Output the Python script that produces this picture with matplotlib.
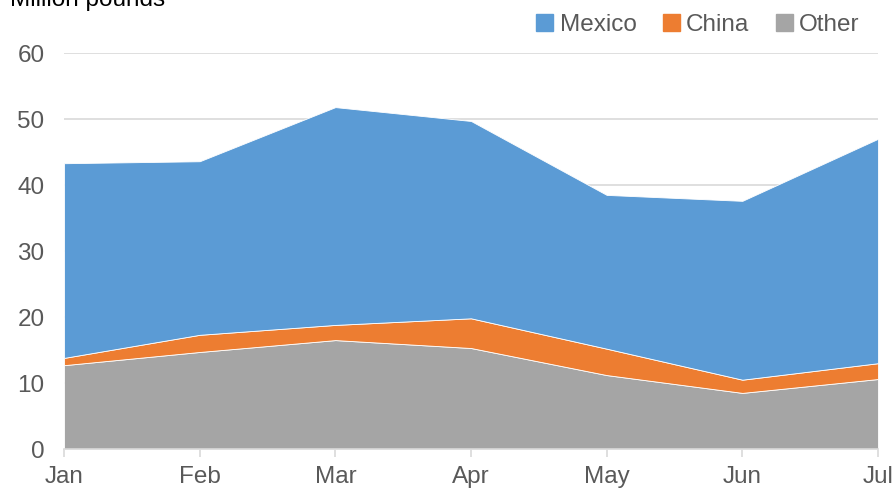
import matplotlib.pyplot as plt
from matplotlib.patches import Patch

plt.rcParams['font.family'] = ['Liberation Sans', 'DejaVu Sans']

# --- Data (million pounds) ---
months = ['Jan', 'Feb', 'Mar', 'Apr', 'May', 'Jun', 'Jul']
other = [12.7, 14.7, 16.5, 15.3, 11.2, 8.5, 10.6]
china = [1.1, 2.6, 2.3, 4.5, 4.0, 2.0, 2.4]
mexico = [29.5, 26.3, 33.0, 29.9, 23.3, 27.1, 34.0]
y_ticks = [0, 10, 20, 30, 40, 50, 60]

col_mexico = '#5B9BD5'
col_china = '#ED7D31'
col_other = '#A5A5A5'
txt = '#595959'
grid = '#D9D9D9'

fig = plt.figure(figsize=(8.96, 4.88), dpi=100)
ax = fig.add_axes([64 / 896, 39 / 488, (878 - 64) / 896, (449 - 53) / 488])

x = list(range(len(months)))
ax.stackplot(x, other, china, mexico,
             colors=[col_other, col_china, col_mexico],
             edgecolor='white', linewidth=0.6, zorder=2)

ax.set_xlim(0, len(months) - 1)
ax.set_ylim(0, 60)
ax.set_yticks(y_ticks)
ax.set_xticks(x)
ax.set_xticklabels(months)
ax.yaxis.grid(True, color=grid, linewidth=1.2, zorder=0)
ax.set_axisbelow(True)

for s in ['top', 'right', 'left']:
    ax.spines[s].set_visible(False)
ax.spines['bottom'].set_color(grid)
ax.spines['bottom'].set_linewidth(1.2)
ax.spines['bottom'].set_zorder(3)

ax.tick_params(axis='y', length=0, pad=14, labelsize=17.5, labelcolor=txt)
ax.tick_params(axis='x', length=6, width=1.2, color=grid, pad=6,
               labelsize=17.5, labelcolor=txt)

# axis title sits at the very top edge, partly clipped as in the source
fig.text(10 / 896, 1.0, 'Million pounds', ha='left', va='center',
         fontsize=17.5, color='black')

handles = [Patch(color=col_mexico, label='Mexico'),
           Patch(color=col_china, label='China'),
           Patch(color=col_other, label='Other')]
fig.legend(handles=handles, loc='upper right', bbox_to_anchor=(0.984, 1.017),
           ncol=3, frameon=False, fontsize=17.5, labelcolor=txt,
           handlelength=0.7, handleheight=0.7, handletextpad=0.25,
           columnspacing=1.1)

fig.savefig('out.png', dpi=100)
